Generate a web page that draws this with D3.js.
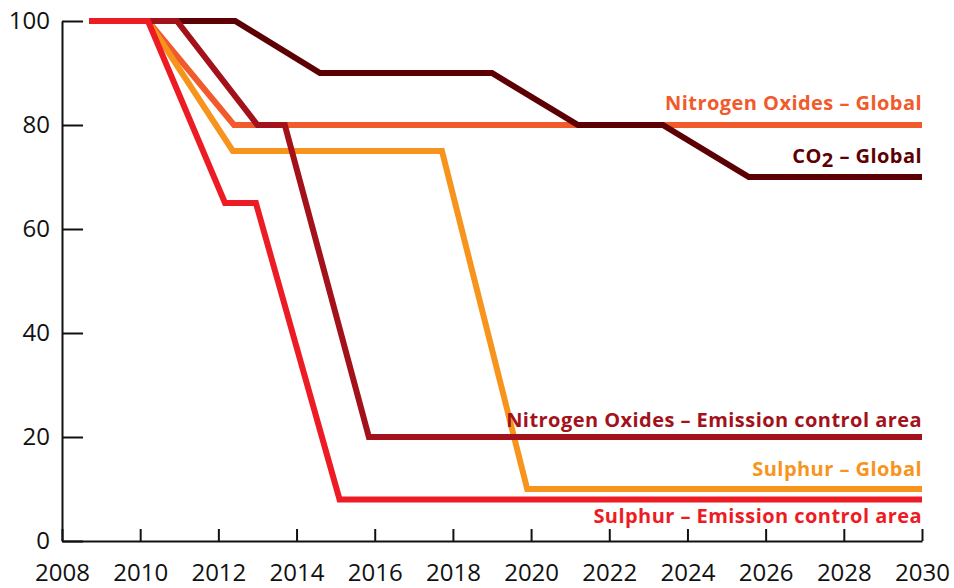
<!DOCTYPE html>
<html>
<head>
<meta charset="utf-8">
<script src="https://d3js.org/d3.v7.min.js"></script>
<style>
  body { margin: 0; background: #fff; }
  .axis path, .axis line { stroke: #111; stroke-width: 2; }
  .axis text { font-family: "Open Sans", sans-serif; font-size: 24px; fill: #111; }
  .lbl { font-family: "Open Sans", sans-serif; font-weight: bold; font-size: 20px; letter-spacing: 0.45px; }
</style>
</head>
<body>
<div id="container"></div>
<script>
// data: [year, index value]
const co2Global = [[2008.7,100],[2012.43,100],[2014.6,90],[2019.0,90],[2021.2,80],[2023.37,80],[2025.57,70],[2030,70]];
const noxEca    = [[2008.7,100],[2010.94,100],[2013.0,80],[2013.7,80],[2015.85,20],[2030,20]];
const noxGlobal = [[2008.7,100],[2010.2,100],[2012.4,80],[2030,80]];
const sulGlobal = [[2008.7,100],[2010.2,100],[2012.37,75],[2017.72,75],[2019.9,10],[2030,10]];
const sulEca    = [[2008.7,100],[2010.2,100],[2012.17,65],[2012.96,65],[2015.1,8],[2030,8]];

// drawing order (bottom -> top)
const seriesNames  = ["Nitrogen Oxides – Global","CO2 – Global","Sulphur – Global","Nitrogen Oxides – Emission control area","Sulphur – Emission control area"];
const seriesColors = ["#f15a2b","#5c0003","#f7941d","#a3121b","#ed1c24"];
const xTicks = d3.range(2008, 2031, 2);
const yTicks = [0, 20, 40, 60, 80, 100];

const width = 954, height = 588;
const margin = { top: 21, right: 32, bottom: 47, left: 62 };

const svg = d3.select('#container').append('svg')
  .attr('width', width).attr('height', height);

const x = d3.scaleLinear().domain([2008, 2030]).range([margin.left, width - margin.right]);
const y = d3.scaleLinear().domain([0, 100]).range([height - margin.bottom, margin.top]);

// axes
svg.append('g').attr('class', 'axis')
  .attr('transform', `translate(0,${y(0)})`)
  .call(d3.axisBottom(x).tickValues(xTicks).tickFormat(d3.format('d'))
        .tickSizeInner(-12).tickSizeOuter(0).tickPadding(23));

svg.append('g').attr('class', 'axis')
  .attr('transform', `translate(${x(2008)},0)`)
  .call(d3.axisLeft(y).tickValues(yTicks).tickSizeInner(-21).tickSizeOuter(0).tickPadding(12));

// lines
const line = d3.line().x(d => x(d[0])).y(d => y(d[1]));
const allSeries = [noxGlobal, co2Global, sulGlobal, noxEca, sulEca];

svg.append('g').selectAll('path')
  .data(allSeries)
  .join('path')
    .attr('d', line)
    .attr('fill', 'none')
    .attr('stroke', (d, i) => seriesColors[i])
    .attr('stroke-width', 6)
    .attr('stroke-linejoin', 'miter');

// labels, right aligned at the end of each line
const labelOffsets = [-15, -14, -13, -10, 24];
const lbl = svg.append('g');
allSeries.forEach((s, i) => {
  const last = s[s.length - 1];
  const t = lbl.append('text')
    .attr('class', 'lbl')
    .attr('x', x(last[0]))
    .attr('y', y(last[1]) + labelOffsets[i])
    .attr('text-anchor', 'end')
    .attr('fill', seriesColors[i]);
  if (seriesNames[i].startsWith('CO2')) {
    t.append('tspan').text('CO');
    t.append('tspan').attr('dy', 4).text('2');
    t.append('tspan').attr('dy', -4).text(' – Global');
  } else {
    t.text(seriesNames[i]);
  }
});
</script>
</body>
</html>
